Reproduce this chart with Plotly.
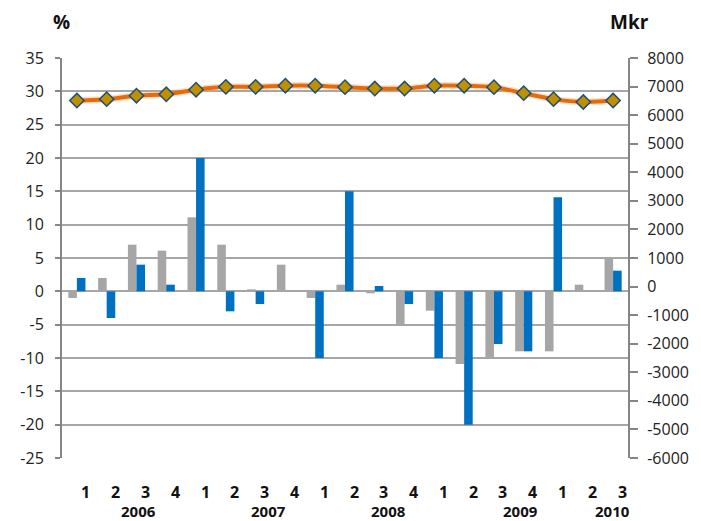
import plotly.graph_objects as go

quarters = ["1", "2", "3", "4"] * 4 + ["1", "2", "3"]
years = ["2006", "2007", "2008", "2009", "2010"]
year_pos = [2.08, 6.42, 10.47, 14.9, 17.99]

gray_pct = [-1, 2, 7, 6.1, 11.1, 7, 0.3, 4, -1, 1, -0.3, -5, -2.9, -10.9, -10, -9, -9, 1, 5]
blue_pct = [2, -4, 4, 1, 20, -3, -1.9, 0, -10, 15, 0.8, -1.9, -10, -20, -7.9, -9, 14.1, 0, 3.1]
line_mkr = [6510, 6560, 6680, 6730, 6890, 6990, 6990, 7030, 7030, 6980, 6930, 6930,
            7030, 7030, 6980, 6770, 6560, 6460, 6510]

left_ticks = list(range(-25, 40, 5))
right_ticks = list(range(-6000, 9000, 1000))

x = list(range(len(quarters)))
FONT = "Open Sans"

fig = go.Figure()
fig.add_bar(x=x, y=gray_pct, marker=dict(color="#A6A6A6", line=dict(width=0)), yaxis="y")
fig.add_bar(x=x, y=blue_pct, marker=dict(color="#0070C0", line=dict(width=0)), yaxis="y")
fig.add_scatter(x=x, y=line_mkr, yaxis="y2", mode="lines",
                line=dict(color="rgba(244,170,110,0.35)", width=7, shape="spline", smoothing=0.6),
                hoverinfo="skip")
fig.add_scatter(x=x, y=line_mkr, yaxis="y2", mode="lines+markers",
                line=dict(color="#E46C0A", width=4, shape="spline", smoothing=0.6),
                marker=dict(symbol="diamond", size=11, color="#BF9000",
                            line=dict(color="#1F4E79", width=1.5)))

annotations = []
for i, q in enumerate(quarters):
    annotations.append(dict(x=i, y=-0.084, xref="x", yref="paper", text=q, showarrow=False,
                            xshift=9, yanchor="middle",
                            font=dict(family=FONT, size=16, color="#111", weight="bold")))
for yr, p in zip(years, year_pos):
    annotations.append(dict(x=p, y=-0.133, xref="x", yref="paper", text=yr, showarrow=False,
                            yanchor="middle",
                            font=dict(family=FONT, size=15, color="#111", weight="bold")))
annotations.append(dict(x=-0.019, y=1.09, xref="paper", yref="paper", text="%", showarrow=False,
                        yanchor="middle", font=dict(family=FONT, size=19, color="#111", weight="bold")))
annotations.append(dict(x=1.041, y=1.09, xref="paper", yref="paper", text="Mkr", showarrow=False,
                        yanchor="middle", font=dict(family=FONT, size=19, color="#111", weight="bold")))

fig.update_layout(
    width=693, height=513,
    margin=dict(l=46, r=65, t=50, b=63),
    paper_bgcolor="white", plot_bgcolor="white",
    barmode="group", bargap=0.425, bargroupgap=0,
    showlegend=False,
    annotations=annotations,
    xaxis=dict(range=[-0.5, 18.5], showticklabels=False, showgrid=False, zeroline=False,
               showline=False, ticks=""),
    yaxis=dict(range=[-25, 35], tickvals=left_ticks, ticktext=[str(v) for v in left_ticks],
               showgrid=True, gridcolor="#A6A6A6", gridwidth=1.5, zeroline=False,
               showline=True, linecolor="#868686", linewidth=2,
               ticks="outside", ticklen=5, tickcolor="#868686", tickwidth=1.5,
               ticklabelstandoff=8,
               tickfont=dict(family=FONT, size=16, color="#222")),
    yaxis2=dict(range=[-6000, 8000], overlaying="y", side="right",
                tickvals=right_ticks, ticktext=[str(v) for v in right_ticks],
                showgrid=False, zeroline=False,
                showline=True, linecolor="#868686", linewidth=2,
                ticks="outside", ticklen=8, tickcolor="#868686", tickwidth=1.5,
                ticklabelstandoff=6,
                tickfont=dict(family=FONT, size=16, color="#222")),
)

fig.write_html("out.html")
